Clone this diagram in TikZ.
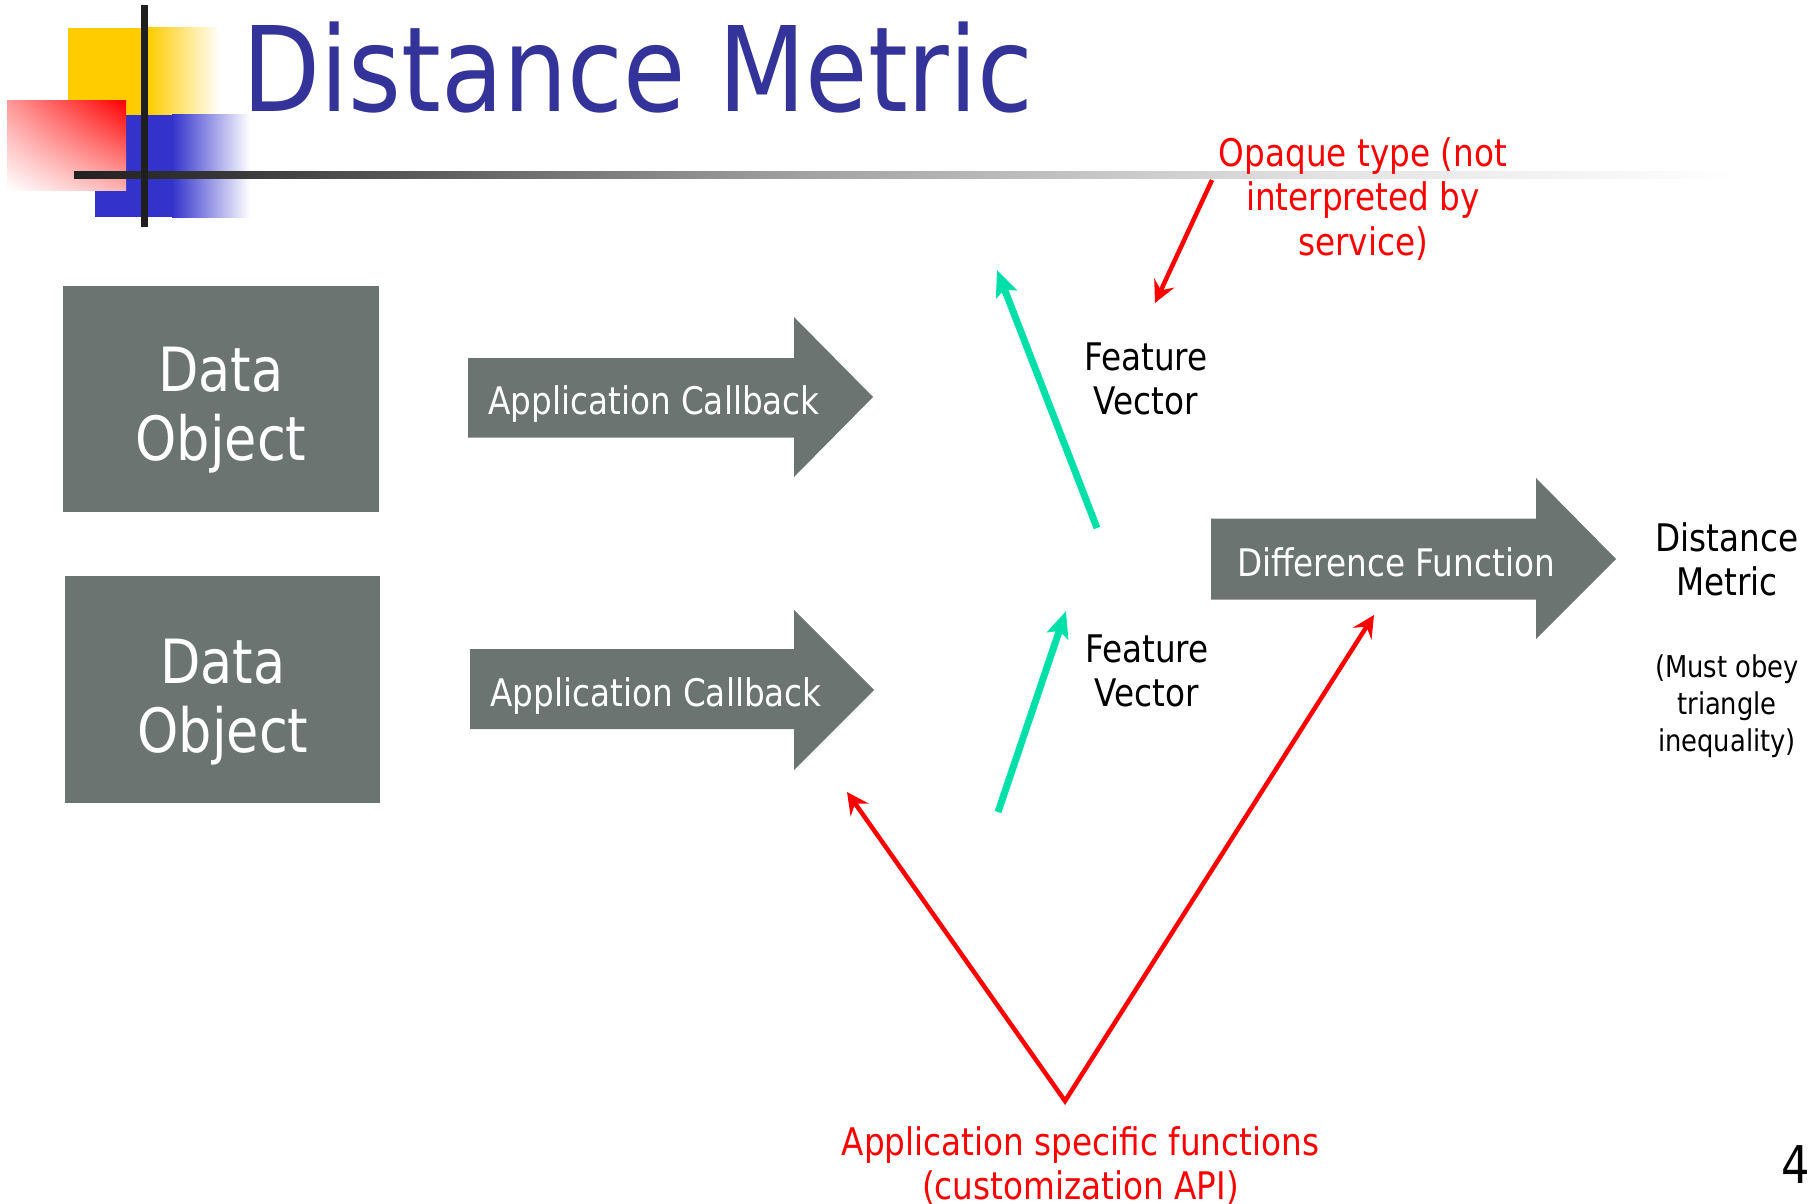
\documentclass[tikz,border=0pt]{standalone}
\usepackage{fontspec}
\setmainfont{DejaVu Sans}[FakeStretch=0.86]
\usetikzlibrary{arrows.meta,shadings}
\definecolor{boxgray}{RGB}{107,116,112}
\definecolor{titleblue}{RGB}{51,51,153}
\definecolor{logoyellow}{RGB}{255,204,0}
\definecolor{logoblue}{RGB}{51,51,204}
\definecolor{fvgreen}{RGB}{0,224,168}
\pgfdeclarehorizontalshading{hline}{100bp}{color(0bp)=(black!87); color(25bp)=(black!87); color(28.8bp)=(black!80); color(46.8bp)=(black!37); color(62.8bp)=(black!11); color(75bp)=(white); color(100bp)=(white)}
\tikzset{
  blockarrow/.style={fill=boxgray, draw=none},
  databox/.style={fill=boxgray, draw=none, inner sep=0, text=white, align=center},
  whitelbl/.style={inner sep=0, text=white, align=center, font=\fontsize{38}{44}\selectfont},
  blacklbl/.style={inner sep=0, align=center, font=\fontsize{38}{44}\selectfont},
  redlbl/.style={inner sep=0, align=center, text=red, font=\fontsize{38}{44.5}\selectfont},
  greenarrow/.style={draw=fvgreen, line width=7pt, -{Stealth[length=26pt, width=22pt, inset=5pt]}},
  redarrow/.style={draw=red, line width=4.5pt},
}
\begin{document}
\begin{tikzpicture}[x=1pt, y=-1pt]
\useasboundingbox (0,0) rectangle (1815,1204);
% logo
\fill[logoyellow] (68,28) rectangle (148,115);
\shade[left color=logoyellow, right color=white] (148,28) rectangle (220,115);
\fill[logoblue] (95,115) rectangle (172,217);
\shade[left color=logoblue, right color=white] (172,115) rectangle (250,217);
\shade[upper left=red!40, upper right=red, lower left=white, lower right=red!30] (7,101) rectangle (126,190);
\shade[shading=hline] (74,171) rectangle (1736,178);
\fill[black!88] (141,5) rectangle (148,227);
% title
\node[inner sep=0, anchor=base west, text=titleblue, font=\fontsize{118}{118}\selectfont] (title) at (242,112) {Distance Metric};
% data objects
\node[databox, minimum width=316pt, minimum height=226pt] (do1) at (220.5,399) {};
\node[inner sep=0, text=white, align=center, font=\fontsize{61}{69.5}\selectfont] (do1t) at (221,410) {Data\\Object};
\node[databox, minimum width=315pt, minimum height=227pt] (do2) at (222.5,689.5) {};
\node[inner sep=0, text=white, align=center, font=\fontsize{61}{69.5}\selectfont] (do2t) at (223,702) {Data\\Object};
% application callback arrows
\fill[blockarrow] (468,358) -- (794,358) -- (794,317) -- (873,397) -- (794,477) -- (794,437.5) -- (468,437.5) -- cycle;
\node[whitelbl] (cb1) at (654,404) {Application Callback};
\fill[blockarrow] (470,649) -- (794,649) -- (794,610) -- (874,690) -- (794,770) -- (794,729) -- (470,729) -- cycle;
\node[whitelbl] (cb2) at (656,696) {Application Callback};
% difference function arrow
\fill[blockarrow] (1211,518.5) -- (1536,518.5) -- (1536,478) -- (1616,559) -- (1536,639) -- (1536,599.5) -- (1211,599.5) -- cycle;
\node[whitelbl] (df) at (1396,562) {Difference Function};
% feature vectors
\node[blacklbl] (fv1) at (1146,379) {Feature\\Vector};
\node[blacklbl] (fv2) at (1147,671) {Feature\\Vector};
% distance metric
\node[blacklbl] (dm) at (1727,559) {Distance\\Metric};
\node[inner sep=0, align=center, font=\fontsize{30}{37}\selectfont] (tri) at (1727,706) {(Must obey\\triangle\\inequality)};
% red labels
\node[redlbl] (opq) at (1363,199) {Opaque type (not\\interpreted by\\service)};
\node[redlbl] (asf) at (1080.5,1165.5) {Application specific functions\\(customization API)};
% page number
\node[inner sep=0, anchor=base west, font=\fontsize{52}{52}\selectfont] (pg) at (1781,1183) {4};
% connector coordinates
\coordinate (g1s) at (1097,528);
\coordinate (g1e) at (997,270);
\coordinate (g2s) at (998,812);
\coordinate (g2e) at (1066,611);
\coordinate (o1s) at (1212,180);
\coordinate (o1e) at (1155,303);
\coordinate (vtx) at (1065,1101);
\coordinate (vl) at (847,792);
\coordinate (vr) at (1374,615);
% green arrows
\draw[greenarrow] (g1s) -- (g1e);
\draw[greenarrow] (g2s) -- (g2e);
% red arrows
\draw[redarrow, -{Stealth[length=22pt, width=22pt, inset=8pt]}] (o1s) -- (o1e);
\draw[redarrow, {Stealth[length=22pt, width=22pt, inset=8pt]}-{Stealth[length=22pt, width=22pt, inset=8pt]}] (vl) -- (vtx) -- (vr);
\end{tikzpicture}
\end{document}
